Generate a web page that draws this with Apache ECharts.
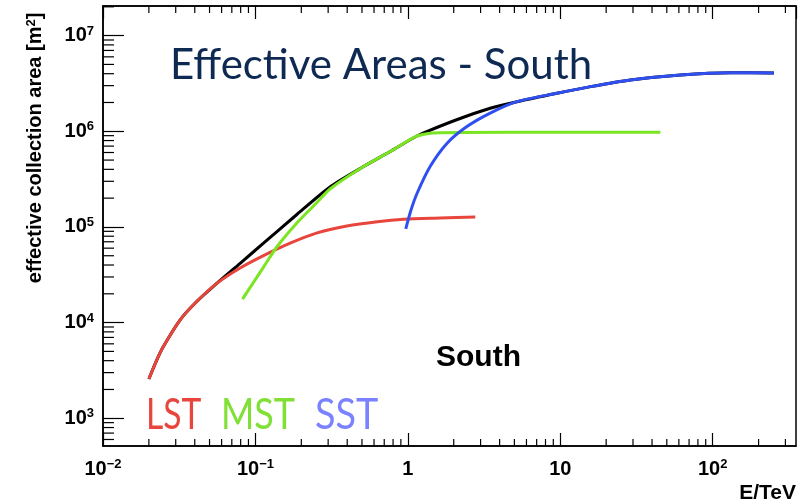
<!DOCTYPE html>
<html>
<head>
<meta charset="utf-8">
<script src="https://cdn.jsdelivr.net/npm/echarts@6/dist/echarts.min.js"></script>
<style>
  html, body { margin: 0; padding: 0; background: #fff; }
  #chart { width: 799px; height: 504px; }
</style>
</head>
<body>
<div id="chart"></div>
<script>
// Effective collection area (m^2) versus energy (TeV) for each telescope type.
const lstEnergy = [0.020, 0.0224, 0.0249, 0.0321, 0.0412, 0.0558, 0.0794, 0.113, 0.169, 0.251, 0.398, 0.631, 0.938, 1.63, 2.77];
const lstArea   = [2570, 3980, 5620, 10700, 16600, 25700, 37200, 50100, 67600, 86100, 102300, 113500, 120200, 123900, 127100];

const mstEnergy = [0.0822, 0.113, 0.138, 0.187, 0.253, 0.310, 0.512, 0.766, 1.15, 1.63, 5.0, 45.4];
const mstArea   = [17600, 38000, 61700, 110000, 180000, 251000, 428000, 614000, 893000, 966000, 975000, 975000];

const sstEnergy = [0.969, 1.05, 1.15, 1.40, 1.81, 2.44, 3.47, 5.2, 9.52, 15.8, 28.8, 61.5, 131, 252];
const sstArea   = [95500, 151000, 225000, 428000, 751000, 1120000, 1550000, 2040000, 2500000, 2930000, 3440000, 3880000, 4100000, 4070000];

// Combined array (envelope of the three telescope types)
const allEnergy = [0.020, 0.0224, 0.0249, 0.0321, 0.0412, 0.0558, 0.0794, 0.113, 0.187, 0.310, 0.512, 0.766, 1.15, 2.09, 3.47, 5.2, 9.52, 15.8, 28.8, 61.5, 131, 252];
const allArea   = [2570, 3980, 5620, 10700, 16600, 25700, 41700, 67600, 134900, 263000, 428000, 614000, 893000, 1320000, 1740000, 2040000, 2500000, 2930000, 3440000, 3880000, 4100000, 4070000];

// Axis ranges and tick positions
const xRange = [0.01, 352];
const yRange = [513, 2.04e7];
const minorSteps = [2, 3, 4, 5, 6, 7, 8, 9];
const xDecades = [0.01, 0.1, 1, 10, 100];
const yDecades = [100, 1000, 10000, 100000, 1000000, 10000000];

const xMinorTicks = [];
xDecades.forEach(d => minorSteps.forEach(m => { const v = d * m; if (v > xRange[0] && v < xRange[1]) xMinorTicks.push(v); }));
const yMinorTicks = [];
yDecades.forEach(d => minorSteps.forEach(m => { const v = d * m; if (v > yRange[0] && v < yRange[1]) yMinorTicks.push(v); }));

const pairs = (xs, ys) => xs.map((x, i) => [x, ys[i]]);

const LABEL_FONT = '"Liberation Sans", Arial, Helvetica, sans-serif';
const SLIDE_FONT = 'Lato, "Open Sans", sans-serif';

function powerLabel(v) {
  const e = Math.round(Math.log10(v));
  if (e === 0) return '{b|1}';
  if (e === 1) return '{b|10}';
  return '{b|10}{s|' + (e < 0 ? '\u2212' + (-e) : e) + '}';
}
const labelRich = {
  b: { fontFamily: LABEL_FONT, fontWeight: 'bold', fontSize: 20, color: '#000', lineHeight: 22 },
  s: { fontFamily: LABEL_FONT, fontWeight: 'bold', fontSize: 13, color: '#000', lineHeight: 13, verticalAlign: 'top' }
};

const chart = echarts.init(document.getElementById('chart'), null, { renderer: 'canvas' });

const lineSeries = (name, data, color) => ({
  name, type: 'line', data, showSymbol: false, smooth: 0.25,
  xAxisIndex: 0, yAxisIndex: 0,
  lineStyle: { color, width: 3 }, z: 3
});

const slideWord = (text, x, sx, color) => ({
  type: 'text', x, y: 415, scaleX: sx,
  style: { text, fontFamily: SLIDE_FONT, fontSize: 42, fill: color, align: 'left', verticalAlign: 'middle' }
});

chart.setOption({
  animation: false,
  backgroundColor: '#fff',
  grid: { left: 103, right: 3, top: 6, bottom: 58, show: true, borderColor: '#000', borderWidth: 1.5, backgroundColor: 'transparent' },
  xAxis: [
    {
      type: 'log', logBase: 10, min: xRange[0], max: xRange[1], position: 'bottom',
      axisLine: { show: true, lineStyle: { color: '#000', width: 1.5 } },
      axisTick: { show: true, inside: true, length: 13, lineStyle: { color: '#000', width: 1.2 } },
      axisLabel: { formatter: powerLabel, rich: labelRich, margin: 12, showMaxLabel: false },
      splitLine: { show: false },
      name: 'E/TeV', nameLocation: 'end', nameGap: 0,
      nameTextStyle: { fontFamily: LABEL_FONT, fontWeight: 'bold', fontSize: 21, color: '#000', align: 'right', verticalAlign: 'top', padding: [37, 0, 0, 0] }
    },
    {
      type: 'log', logBase: 10, min: xRange[0], max: xRange[1], position: 'top',
      axisLine: { show: true, lineStyle: { color: '#000', width: 1.5 } },
      axisTick: { show: true, inside: true, length: 13, lineStyle: { color: '#000', width: 1.2 } },
      axisLabel: { show: false }, splitLine: { show: false }
    }
  ],
  yAxis: [
    {
      type: 'log', logBase: 10, min: yRange[0], max: yRange[1], position: 'left',
      axisLine: { show: true, lineStyle: { color: '#000', width: 1.5 } },
      axisTick: { show: true, inside: true, length: 21, lineStyle: { color: '#000', width: 1.2 } },
      axisLabel: { formatter: powerLabel, rich: labelRich, margin: 9, showMinLabel: false, showMaxLabel: false },
      splitLine: { show: false }
    }
  ],
  graphic: [
    {
      type: 'text', x: 35, y: 148, rotation: Math.PI / 2,
      style: {
        text: 'effective collection area [m{s|2}]', fontFamily: LABEL_FONT, fontWeight: 'bold', fontSize: 20, fill: '#000', align: 'center', verticalAlign: 'middle',
        rich: { s: { fontFamily: LABEL_FONT, fontWeight: 'bold', fontSize: 13, fill: '#000', verticalAlign: 'top', lineHeight: 13 } }
      }
    },
    {
      type: 'text', x: 170, y: 65,
      style: { text: 'Effective Areas - South', fontFamily: SLIDE_FONT, fontSize: 42, fill: '#0e2a52', align: 'left', verticalAlign: 'middle' }
    },
    {
      type: 'text', x: 436, y: 358,
      style: { text: 'South', fontFamily: LABEL_FONT, fontWeight: 'bold', fontSize: 30, fill: '#000', align: 'left', verticalAlign: 'middle' }
    },
    slideWord('LST', 146, 0.80, '#e8453c'),
    slideWord('MST', 221, 0.855, '#80e035'),
    slideWord('SST', 315, 0.90, '#7a82ff')
  ],
  series: [
    lineSeries('All', pairs(allEnergy, allArea), '#000000'),
    lineSeries('LST', pairs(lstEnergy, lstArea), '#e8453c'),
    lineSeries('MST', pairs(mstEnergy, mstArea), '#7be521'),
    lineSeries('SST', pairs(sstEnergy, sstArea), '#2f4ff0'),
    {
      // minor ticks on the bottom and top of the frame
      type: 'custom', xAxisIndex: 0, yAxisIndex: 0, silent: true, z: 4,
      data: xMinorTicks.map(v => [v]),
      renderItem: (params, api) => {
        const v = api.value(0);
        const b = api.coord([v, yRange[0]]);
        const t = api.coord([v, yRange[1]]);
        return { type: 'group', children: [
          { type: 'line', shape: { x1: b[0], y1: b[1], x2: b[0], y2: b[1] - 7 }, style: { stroke: '#000', lineWidth: 1.2 } },
          { type: 'line', shape: { x1: t[0], y1: t[1], x2: t[0], y2: t[1] + 7 }, style: { stroke: '#000', lineWidth: 1.2 } }
        ] };
      }
    },
    {
      // minor ticks on the left of the frame
      type: 'custom', xAxisIndex: 0, yAxisIndex: 0, silent: true, z: 4,
      data: yMinorTicks.map(v => [xRange[0], v]),
      renderItem: (params, api) => {
        const p = api.coord([xRange[0], api.value(1)]);
        return { type: 'line', shape: { x1: p[0], y1: p[1], x2: p[0] + 11, y2: p[1] }, style: { stroke: '#000', lineWidth: 1.2 } };
      }
    }
  ]
});
</script>
</body>
</html>
